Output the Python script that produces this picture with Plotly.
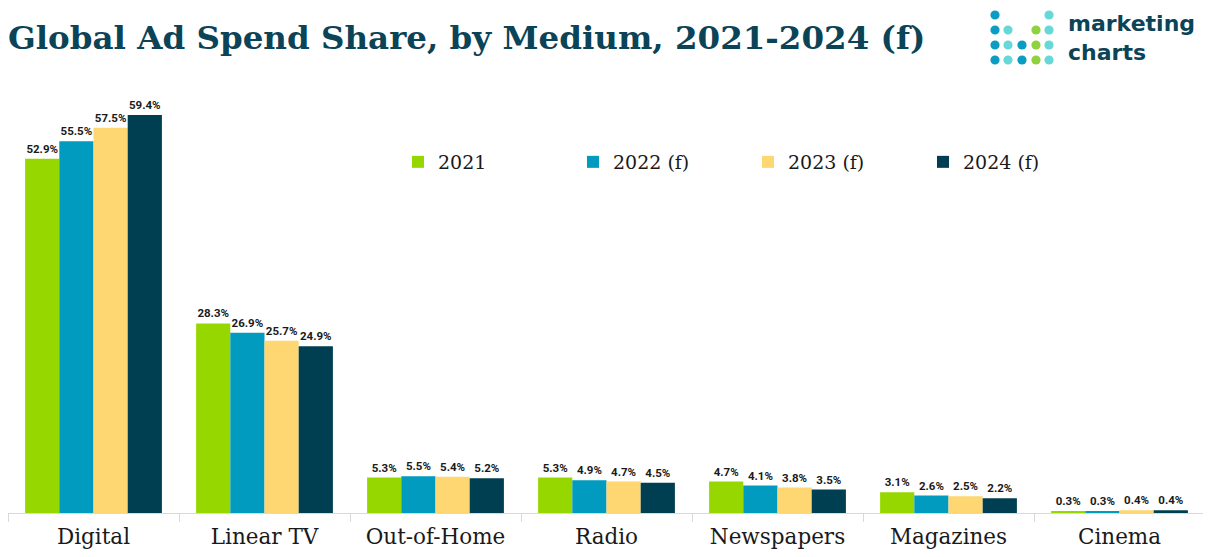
import plotly.graph_objects as go

categories = ["Digital", "Linear TV", "Out-of-Home", "Radio", "Newspapers", "Magazines", "Cinema"]
series_names = ["2021", "2022 (f)", "2023 (f)", "2024 (f)"]
v2021 = [52.9, 28.3, 5.3, 5.3, 4.7, 3.1, 0.3]
v2022 = [55.5, 26.9, 5.5, 4.9, 4.1, 2.6, 0.3]
v2023 = [57.5, 25.7, 5.4, 4.7, 3.8, 2.5, 0.4]
v2024 = [59.4, 24.9, 5.2, 4.5, 3.5, 2.2, 0.4]
values = [v2021, v2022, v2023, v2024]
colors = ["#97d700", "#009bbf", "#fed672", "#003f52"]

# page body has an 8px margin, so figure pixels = screen pixels - 8
OFF = 8
W, H = 1203, 549
L, R, T, B = 0, 6, 83, 44
pw, ph = W - L - R, H - T - B

fig = go.Figure()
for name, vals, col in zip(series_names, values, colors):
    fig.add_trace(go.Bar(
        x=categories, y=vals, name=name,
        marker=dict(color=col, line=dict(width=0)),
        texttemplate="%{y:.1f}%", textposition="outside",
        textfont=dict(family="Roboto", size=11.5, color="#1a1a1a", weight="bold"),
        cliponaxis=False,
    ))

def px_to_paper(sx, sy):
    fx, fy = sx - OFF, sy - OFF
    return (fx - L) / pw, (H - B - fy) / ph

# logo dots
dot_cols = [995, 1008, 1022, 1036, 1049]
dot_rows = [15, 30, 45, 60]
BLUE, TURQ, GRN = "#0a9cc2", "#66d8d8", "#8fd13f"
pattern = [
    [BLUE, None, None, None, TURQ],
    [BLUE, TURQ, None, GRN, TURQ],
    [BLUE, TURQ, BLUE, GRN, TURQ],
    [BLUE, TURQ, BLUE, GRN, TURQ],
]
shapes = []
r = 4.6
for ri, row in enumerate(pattern):
    for ci, c in enumerate(row):
        if c is None:
            continue
        x0, y0 = px_to_paper(dot_cols[ci] - r, dot_rows[ri] + r)
        x1, y1 = px_to_paper(dot_cols[ci] + r, dot_rows[ri] - r)
        shapes.append(dict(type="circle", xref="paper", yref="paper",
                           x0=x0, y0=y0, x1=x1, y1=y1,
                           fillcolor=c, line=dict(width=0)))

ax, ay = px_to_paper(1066, 38)
annotations = [dict(text="marketing<br>charts", xref="paper", yref="paper", x=ax, y=ay,
                    xanchor="left", yanchor="middle", align="left", showarrow=False,
                    font=dict(family="DejaVu Sans", size=22, color="#0b4357", weight="bold"))]

lx, ly = px_to_paper(398, 162)

fig.update_layout(
    width=W, height=H,
    margin=dict(l=L, r=R, t=T, b=B, pad=0, autoexpand=False),
    paper_bgcolor="white", plot_bgcolor="white",
    barmode="group", bargap=0.2, bargroupgap=0,
    title=dict(text="Global Ad Spend Share, by Medium, 2021-2024 (f)",
               x=0, xanchor="left", y=1 - (38 - OFF) / H, yanchor="middle",
               pad=dict(l=0, t=0, b=0, r=0),
               font=dict(family="DejaVu Serif", size=32.5, color="#0b4357", weight="bold")),
    xaxis=dict(showline=True, linecolor="#d9d9d9", linewidth=1,
               ticks="outside", tickson="boundaries", ticklen=8, tickcolor="#d9d9d9",
               tickangle=0, automargin=False, ticklabelstandoff=4,
               tickfont=dict(family="DejaVu Serif", size=21.5, color="#1a1a1a"),
               showgrid=False),
    yaxis=dict(range=[0, 63], visible=False, showgrid=False, zeroline=False),
    legend=dict(orientation="h", x=lx, y=ly, xanchor="left", yanchor="middle",
                entrywidth=130, entrywidthmode="pixels",
                font=dict(family="DejaVu Serif", size=19, color="#1a1a1a"),
                itemwidth=30, bgcolor="rgba(0,0,0,0)"),
    shapes=shapes, annotations=annotations,
    showlegend=True,
)

fig.write_html("out.html")
